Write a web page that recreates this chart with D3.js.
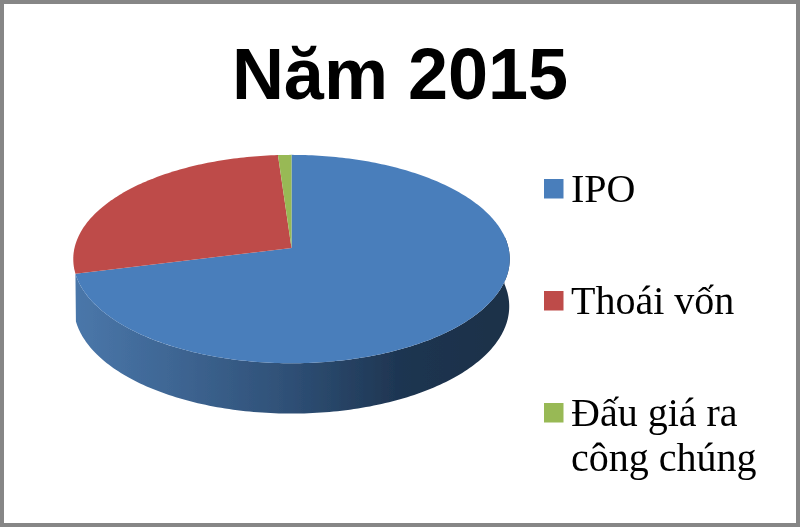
<!DOCTYPE html>
<html>
<head>
<meta charset="utf-8">
<title>Năm 2015</title>
<script src="https://cdnjs.cloudflare.com/ajax/libs/d3/7.8.5/d3.min.js"></script>
<style>
body { margin: 0; background: #fff; }
</style>
</head>
<body>
<script>
// data (percent)
var title = "Năm 2015"
var categories = ["IPO", "Thoái vốn", "Đấu giá ra công chúng"]
var values = [71.1, 27.8, 1.1]
var colours = ["#4a7ebb", "#be4b48", "#98b954"]
var legendLines = [["IPO"], ["Thoái vốn"], ["Đấu giá ra", "công chúng"]]
var legendY = [179, 291, 403]

var w = 800, h = 527

var svg = d3.select("body").append("svg")
    .attr("width", w)
    .attr("height", h)
    .style("display", "block")

var defs = svg.append("defs")

// slight softening, the original is an upscaled screenshot
defs.append("filter").attr("id", "soft")
    .append("feGaussianBlur").attr("stdDeviation", 0.45)

// gradient of the side wall
var wallGrad = defs.append("linearGradient")
    .attr("id", "wall")
    .attr("gradientUnits", "userSpaceOnUse")
    .attr("x1", 74).attr("x2", 510)
    .attr("y1", 0).attr("y2", 0)
wallGrad.selectAll("stop")
    .data([[0, "#4a77aa"], [0.25, "#3d6491"], [0.5, "#2e4f75"], [0.75, "#1e3551"], [1, "#1c3048"]])
    .enter().append("stop")
    .attr("offset", function(d){ return d[0] })
    .attr("stop-color", function(d){ return d[1] })

var root = svg.append("g").attr("filter", "url(#soft)")

// frame
root.append("rect")
    .attr("x", 2).attr("y", 2)
    .attr("width", w - 4).attr("height", h - 4)
    .attr("fill", "#fff")
    .attr("stroke", "#868686")
    .attr("stroke-width", 4)

// title
root.append("text")
    .attr("x", 400)
    .attr("y", 99)
    .attr("text-anchor", "middle")
    .attr("font-family", "Liberation Sans")
    .attr("font-weight", "bold")
    .attr("font-size", 72)
    .attr("fill", "#000")
    .text(title)

// pie, tilted with a small perspective so that the near half looks larger
var cx = 291.5, cy = 248
var persp = 0.106

function rim(angle, rx, ry, oy) {
    var u = Math.sin(angle), v = -Math.cos(angle)
    var k = 1 - persp * v
    return [cx + rx * u / k, cy + oy + ry * v / k]
}

function topRim(a) { return rim(a, 217, 103, 0) }
function bottomRim(a) { return rim(a, 216.5, 106, 47) }

var pie = d3.pie().sort(null).startAngle(0).endAngle(2 * Math.PI)
var arcs = pie(values)
var line = d3.line()
var step = Math.PI / 180

// side wall: only the front part of the rim is visible
var wallStart = Math.PI / 2 - 0.105
var wallEnd = arcs[0].endAngle
var wallAngles = d3.range(wallStart, wallEnd, step).concat([wallEnd])
var wallPts = wallAngles.map(topRim).concat(wallAngles.slice().reverse().map(bottomRim))

root.append("path")
    .attr("d", line(wallPts) + "Z")
    .attr("fill", "url(#wall)")

// top faces
root.selectAll("path.slice")
    .data(arcs)
    .enter()
    .append("path")
    .attr("class", "slice")
    .attr("fill", function(d, i){ return colours[i] })
    .attr("d", function(d){
        var angles = d3.range(d.startAngle, d.endAngle, step).concat([d.endAngle])
        return line([[cx, cy]].concat(angles.map(topRim))) + "Z"
    })

// legend
var legend = root.selectAll("g.legend")
    .data(categories)
    .enter()
    .append("g")
    .attr("class", "legend")
    .attr("transform", function(d, i){ return "translate(544," + legendY[i] + ")" })

legend.append("rect")
    .attr("width", 19.5)
    .attr("height", 19.5)
    .attr("fill", function(d, i){ return colours[i] })

legend.each(function(d, i){
    d3.select(this).selectAll("text")
        .data(legendLines[i])
        .enter()
        .append("text")
        .attr("x", 27)
        .attr("y", function(t, j){ return 23 + j * 45 })
        .attr("font-family", "Liberation Serif")
        .attr("font-size", 40)
        .attr("fill", "#000")
        .text(function(t){ return t })
})
</script>
</body>
</html>
